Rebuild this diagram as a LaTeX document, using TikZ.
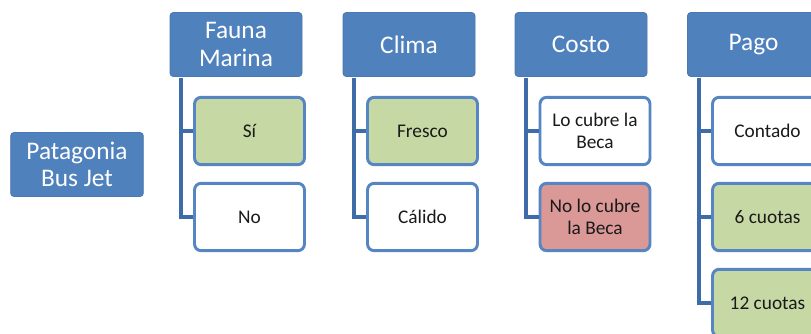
\documentclass[tikz,border=0pt]{standalone}
\usepackage{fontspec}
\setmainfont{Carlito}
\definecolor{hdr}{HTML}{4F81BD}
\definecolor{hdrline}{HTML}{4A78B0}
\definecolor{kidline}{HTML}{5585C2}
\definecolor{conn}{HTML}{3E6CA8}
\definecolor{green}{HTML}{C6D8A3}
\definecolor{red}{HTML}{DA9896}
\definecolor{txt}{HTML}{1A1A1A}
\begin{document}
\begin{tikzpicture}[x=0.75pt,y=-0.75pt,
  hdrbox/.style={rectangle, rounded corners=2.5pt, fill=hdr, draw=hdrline, line width=0.6pt,
    minimum width=99pt, minimum height=48pt, text=white, align=center,
    font=\fontsize{19}{20.5}\selectfont, inner sep=1pt},
  kidbox/.style={rectangle, rounded corners=5pt, fill=white, draw=kidline, line width=2.2pt,
    minimum width=82.5pt, minimum height=50.5pt, text=txt, align=center,
    font=\fontsize{14.5}{16}\selectfont, inner sep=1pt},
  yes/.style={fill=green},
  nope/.style={fill=red},
  link/.style={draw=conn, line width=3pt}]
\clip (0,0) rectangle (811,333);
\fill[white] (0,0) rectangle (811,333);

\node[hdrbox, minimum width=99.5pt] (root) at (77,164.5) {Patagonia\\Bus Jet};

\node[hdrbox] (fm) at (236,44.5) {Fauna\\Marina};
\node[hdrbox] (cl) at (409,44.5) {Clima};
\node[hdrbox] (co) at (581,44.5) {Costo};
\node[hdrbox] (pa) at (753.5,44.5) {Pago};

\node[kidbox, yes] (si) at (249.5,131) {Sí};
\node[kidbox] (no) at (249.5,217) {No};
\node[kidbox, yes] (fr) at (422.5,131) {Fresco};
\node[kidbox] (ca) at (422.5,217) {Cálido};
\node[kidbox] (lc) at (595,131) {Lo cubre la\\Beca};
\node[kidbox, nope] (nl) at (595,217) {No lo cubre\\la Beca};
\node[kidbox] (ct) at (767.5,131) {Contado};
\node[kidbox, yes] (c6) at (767.5,217) {6 cuotas};
\node[kidbox, yes] (c12) at (767.5,303) {12 cuotas};

\foreach \h/\a/\b in {fm/si/no, cl/fr/ca, co/lc/nl}{
  \draw[link] ([xshift=8.6pt,yshift=-0.5pt]\h.south west) |- (\b.west);
  \draw[link] ([xshift=8.6pt,yshift=-0.5pt]\h.south west) |- (\a.west);
}
\draw[link] ([xshift=8.6pt,yshift=-0.5pt]pa.south west) |- (c12.west);
\draw[link] ([xshift=8.6pt,yshift=-0.5pt]pa.south west) |- (c6.west);
\draw[link] ([xshift=8.6pt,yshift=-0.5pt]pa.south west) |- (ct.west);
\end{tikzpicture}
\end{document}
